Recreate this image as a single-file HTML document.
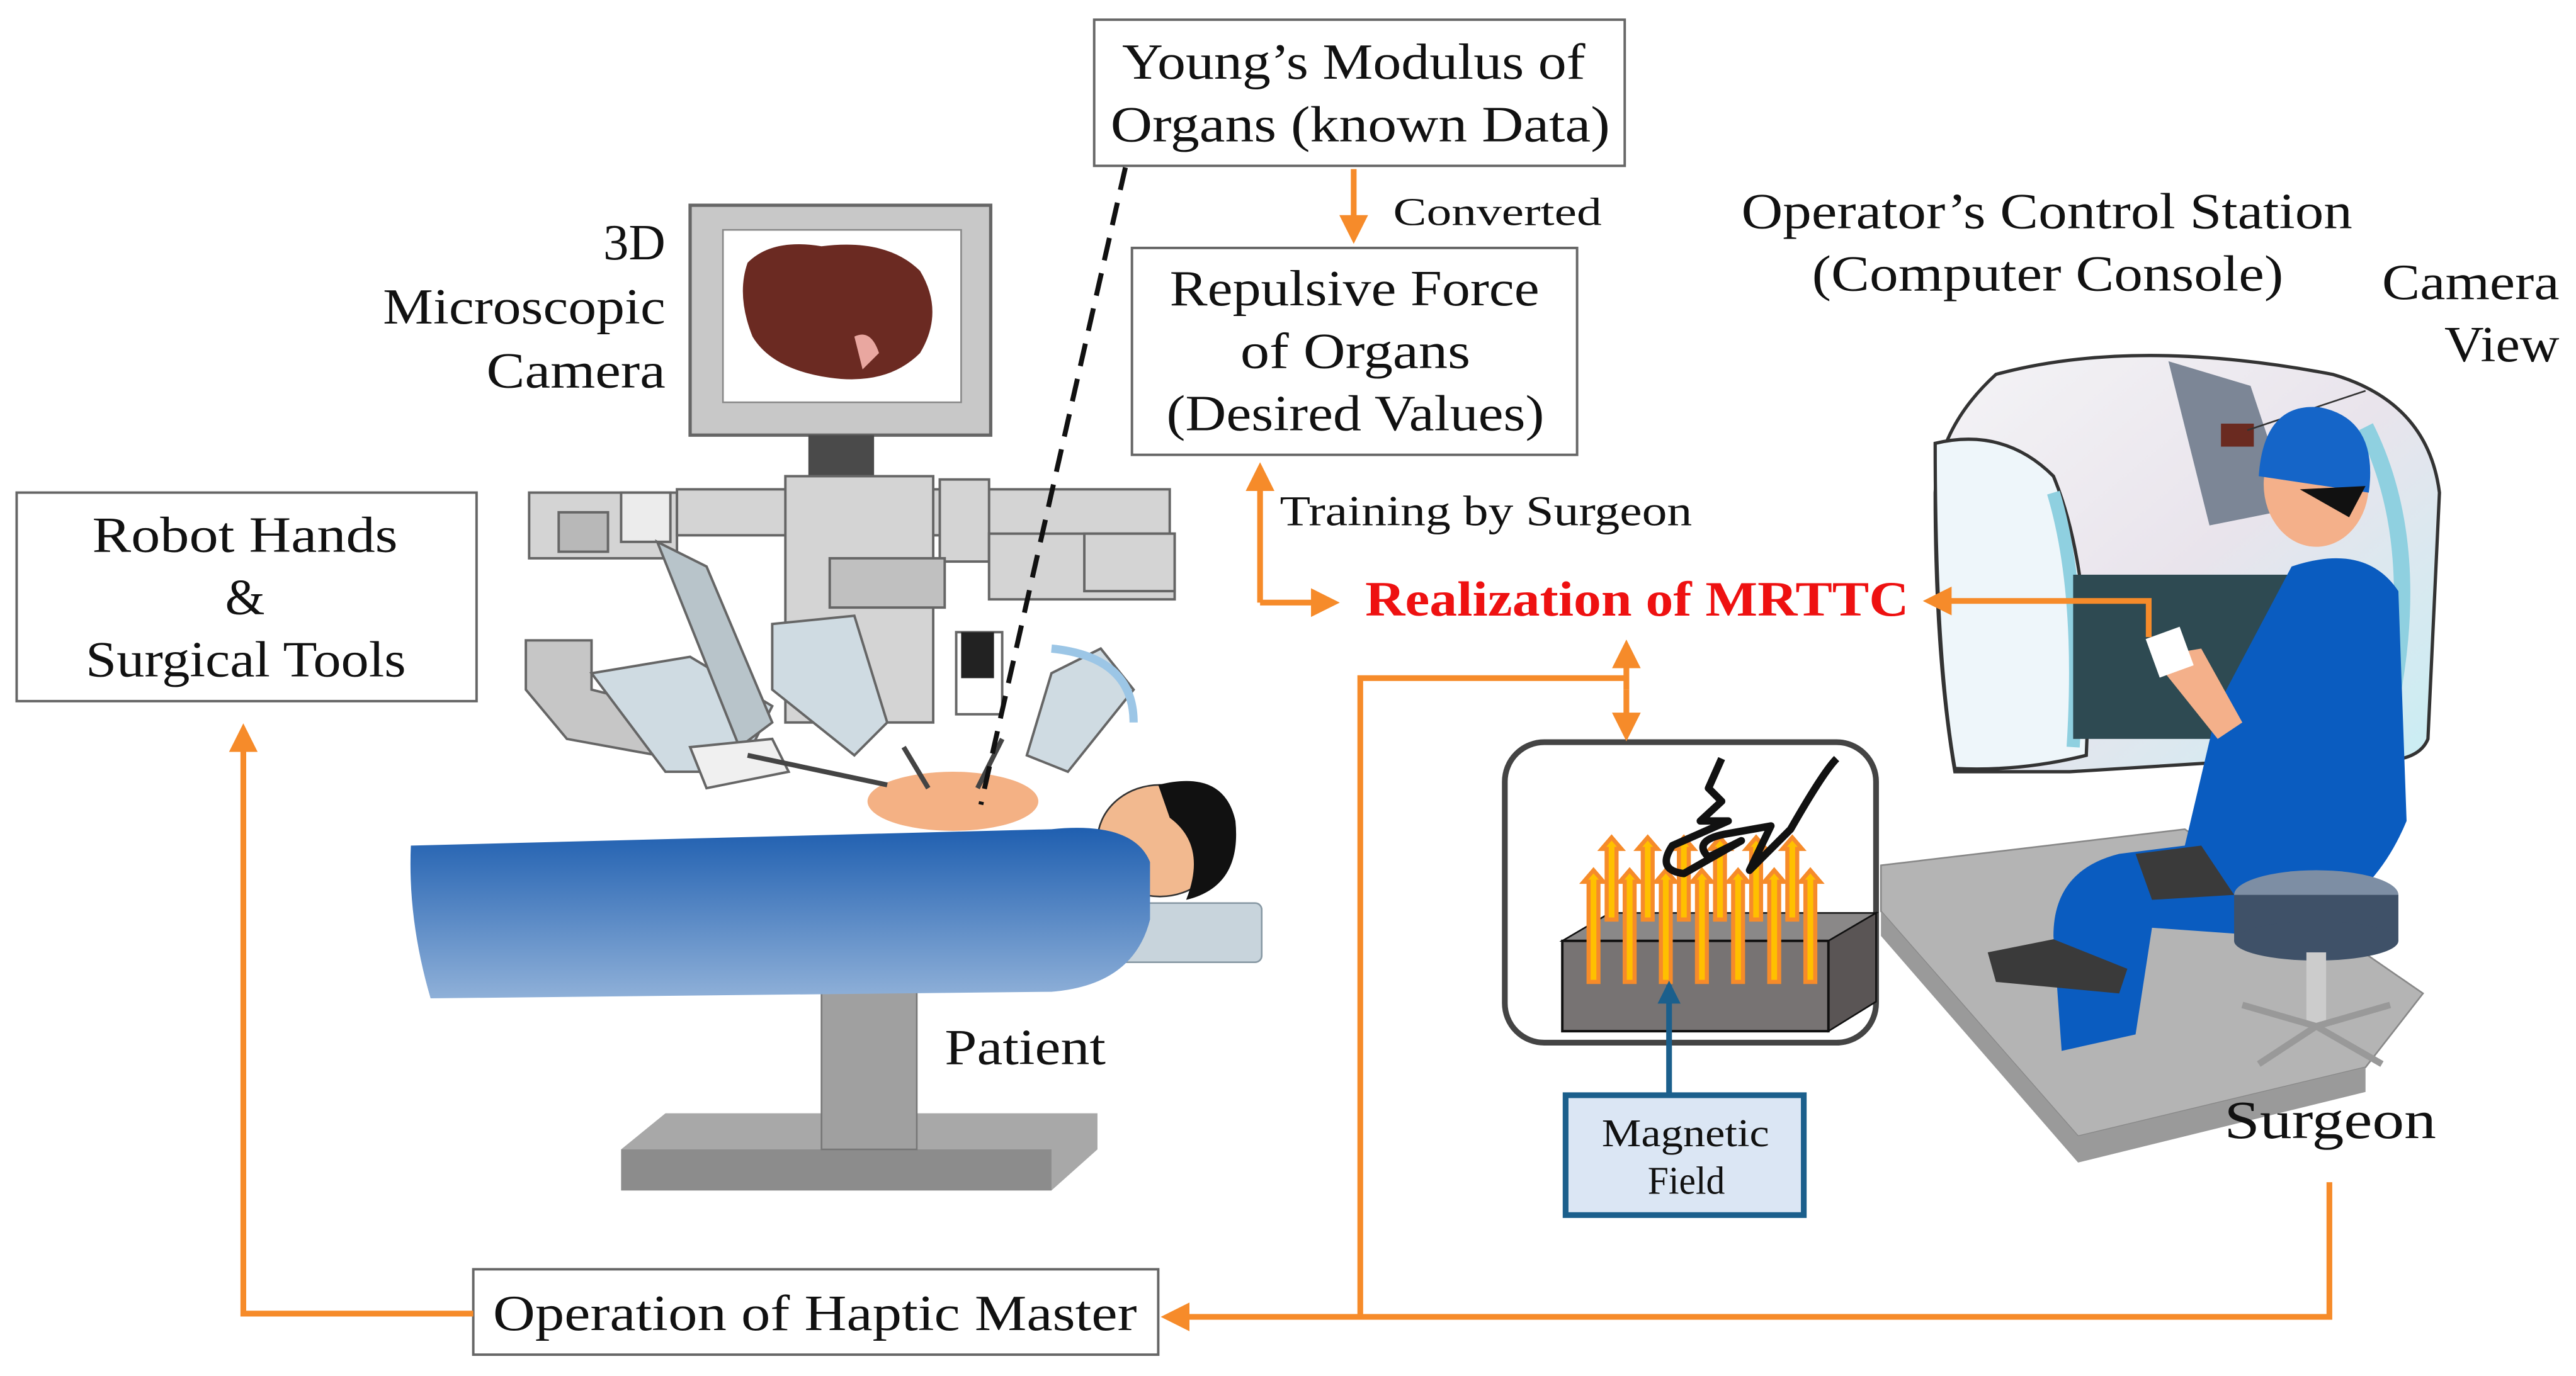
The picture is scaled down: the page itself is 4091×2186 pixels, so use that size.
<!DOCTYPE html>
<html><head><meta charset="utf-8"><style>
html,body{margin:0;padding:0;background:#fff;}
svg{display:block;}
text{font-family:"Liberation Serif",serif;fill:#111;}
</style></head><body>
<svg width="4091" height="2186" viewBox="0 0 1568 838" xmlns="http://www.w3.org/2000/svg">
<defs>
<linearGradient id="bed" x1="0" y1="0" x2="0" y2="1"><stop offset="0" stop-color="#1f5fb0"/><stop offset="1" stop-color="#8fb0d8"/></linearGradient>
<linearGradient id="shell" x1="0" y1="0" x2="1" y2="1"><stop offset="0" stop-color="#f4f4f6"/><stop offset="0.5" stop-color="#e9e4ec"/><stop offset="1" stop-color="#c8eef4"/></linearGradient>
<marker id="ao" viewBox="0 0 10 10" refX="8" refY="5" markerWidth="5" markerHeight="5" orient="auto"><path d="M0,0L10,5L0,10z" fill="#f68b2a"/></marker>
<marker id="ab" viewBox="0 0 10 10" refX="8" refY="5" markerWidth="4" markerHeight="4" orient="auto"><path d="M0,0L10,5L0,10z" fill="#1b5f8c"/></marker>
</defs>

<!-- table base -->
<polygon points="378,700 405,678 668,678 668,700 640,725 378,725" fill="#a8a8a8"/>
<polygon points="378,700 640,700 640,725 378,725" fill="#8c8c8c"/>
<rect x="500" y="595" width="58" height="105" fill="#a0a0a0" stroke="#777"/>
<rect x="640" y="550" width="128" height="36" rx="4" fill="#c8d4dc" stroke="#8899a4"/>
<ellipse cx="706" cy="512" rx="38" ry="34" fill="#f2b98f" stroke="#333"/>
<path d="M705,478 Q745,468 752,500 Q756,540 722,548 Q735,515 712,498 Z" fill="#111"/>
<path d="M250,515 L640,505 Q690,500 700,525 L700,560 Q690,600 640,604 L262,608 Q248,560 250,515 Z" fill="url(#bed)"/>
<ellipse cx="580" cy="488" rx="52" ry="18" fill="#f4b184"/>
<!-- monitor -->
<rect x="420" y="125" width="183" height="140" fill="#c8c8c8" stroke="#666" stroke-width="2"/>
<rect x="440" y="140" width="145" height="105" fill="#fff" stroke="#888"/>
<path d="M455,160 Q470,145 500,150 Q540,145 560,165 Q575,190 560,215 Q540,235 505,230 Q470,225 458,205 Q448,180 455,160 Z" fill="#6b2a22"/>
<path d="M520,205 Q530,200 535,215 L525,225 Z" fill="#e9a7a0"/>
<rect x="492" y="265" width="40" height="32" fill="#4a4a4a"/>
<g fill="#d4d4d4" stroke="#666" stroke-width="1.5">
<rect x="322" y="300" width="90" height="40"/>
<rect x="340" y="312" width="30" height="24" fill="#b8b8b8"/>
<rect x="378" y="300" width="30" height="30" fill="#ececec"/>
<rect x="412" y="298" width="300" height="28"/>
<rect x="478" y="290" width="90" height="150"/>
<rect x="572" y="292" width="30" height="50"/>
<rect x="602" y="325" width="113" height="40"/>
<rect x="660" y="325" width="55" height="35"/>
<rect x="505" y="340" width="70" height="30" fill="#c0c0c0"/>
<rect x="582" y="385" width="28" height="50" fill="#fff"/>
<rect x="585" y="385" width="20" height="28" fill="#222" stroke="none"/>
<path d="M320,390 L360,390 L360,420 L400,430 L400,460 L345,450 L320,420 Z" fill="#c6c6c6"/>
<path d="M360,410 L420,400 L470,430 L450,470 L405,470 Z" fill="#cfdbe2"/>
<path d="M400,330 L430,345 L470,440 L450,455 Z" fill="#b8c4ca"/>
<path d="M470,380 L520,375 L540,440 L520,460 L470,420 Z" fill="#cfdbe2"/>
<path d="M640,410 L670,395 L690,420 L650,470 L625,460 Z" fill="#cfdbe2"/>
<path d="M420,455 L470,450 L480,470 L430,480 Z" fill="#f0f0f0"/>
</g>
<path d="M640,395 Q690,400 690,440" fill="none" stroke="#9cc6e6" stroke-width="5"/>
<g stroke="#444" stroke-width="3"><line x1="550" y1="455" x2="565" y2="480"/><line x1="610" y1="450" x2="595" y2="480"/><line x1="455" y1="460" x2="540" y2="478"/></g>

<line x1="685" y1="102" x2="597" y2="490" stroke="#111" stroke-width="3" stroke-dasharray="14,8"/>

<!-- console -->
<polygon points="1145,527 1330,505 1475,605 1440,650 1265,692 1145,555" fill="#b4b4b4" stroke="#888"/>
<polygon points="1145,555 1265,692 1440,650 1440,665 1265,708 1145,570" fill="#9a9a9a"/>
<path d="M1215,228 Q1300,205 1420,228 Q1478,245 1485,300 L1478,450 Q1470,470 1420,460 L1260,470 L1190,470 Q1178,400 1178,300 Q1180,260 1215,228 Z" fill="url(#shell)" stroke="#333" stroke-width="2"/>
<path d="M1178,270 Q1220,260 1250,290 Q1275,350 1270,460 Q1230,470 1190,468 Q1178,400 1178,270 Z" fill="#eef6fa" stroke="#333" stroke-width="2"/>
<path d="M1250,300 Q1268,360 1262,455" fill="none" stroke="#8fd0e0" stroke-width="8"/>
<path d="M1440,260 Q1475,330 1455,430" fill="none" stroke="#8fd0e0" stroke-width="10"/>
<path d="M1320,220 L1370,235 L1395,310 L1345,320 Z" fill="#7c8696"/>
<rect x="1262" y="350" width="180" height="100" fill="#2e4a52"/>
<rect x="1352" y="258" width="20" height="14" fill="#6a2a20"/>
<line x1="1440" y1="238" x2="1368" y2="262" stroke="#333" stroke-width="1"/>
<path d="M1395,345 Q1440,330 1460,360 L1465,500 Q1440,560 1380,570 L1310,565 L1300,630 L1255,640 L1250,570 Q1250,530 1290,520 L1330,515 L1350,430 Z" fill="#0a5cc0"/>
<path d="M1310,400 L1340,395 L1365,440 L1350,450 Z" fill="#f4b08a"/>
<rect x="1310" y="385" width="22" height="25" fill="#fff" transform="rotate(-20 1320 398)"/>
<ellipse cx="1410" cy="295" rx="32" ry="38" fill="#f4b08a"/>
<path d="M1375,290 Q1378,245 1412,248 Q1448,255 1442,300 Z" fill="#1565c8"/>
<path d="M1400,298 L1440,296 L1430,315 Z" fill="#111"/>
<ellipse cx="1410" cy="545" rx="50" ry="15" fill="#7d8ea4"/>
<rect x="1360" y="545" width="100" height="28" fill="#3f5168"/>
<ellipse cx="1410" cy="573" rx="50" ry="12" fill="#3f5168"/>
<rect x="1404" y="580" width="12" height="45" fill="#ccc"/>
<g stroke="#999" stroke-width="4"><line x1="1410" y1="625" x2="1365" y2="612"/><line x1="1410" y1="625" x2="1455" y2="612"/><line x1="1410" y1="625" x2="1375" y2="648"/><line x1="1410" y1="625" x2="1450" y2="648"/></g>
<path d="M1210,580 L1250,572 L1295,590 L1290,605 L1215,598 Z" fill="#3a3a3a"/>
<path d="M1300,520 L1340,515 L1360,545 L1310,548 Z" fill="#3a3a3a"/>

<!-- magnet box -->
<rect x="916" y="452" width="226" height="183" rx="24" fill="#fff" stroke="#444" stroke-width="3.5"/>
<polygon points="951,573 980,556 1142,556 1113,573" fill="#8a8888" stroke="#111"/>
<polygon points="1113,573 1142,556 1142,610 1113,628" fill="#5a5555" stroke="#111"/>
<rect x="951" y="573" width="162" height="55" fill="#777373" stroke="#111" stroke-width="1.5"/>
<g fill="#ffc000" stroke="#f68b2a" stroke-width="2.5">
<path d="M964,537 L970,530 L976,537 L973,537 L973,598 L967,598 L967,537 Z"/>
<path d="M986,537 L992,530 L998,537 L995,537 L995,598 L989,598 L989,537 Z"/>
<path d="M1008,537 L1014,530 L1020,537 L1017,537 L1017,598 L1011,598 L1011,537 Z"/>
<path d="M1030,537 L1036,530 L1042,537 L1039,537 L1039,598 L1033,598 L1033,537 Z"/>
<path d="M1052,537 L1058,530 L1064,537 L1061,537 L1061,598 L1055,598 L1055,537 Z"/>
<path d="M1074,537 L1080,530 L1086,537 L1083,537 L1083,598 L1077,598 L1077,537 Z"/>
<path d="M1096,537 L1102,530 L1108,537 L1105,537 L1105,598 L1099,598 L1099,537 Z"/>
<path d="M975,517 L981,510 L987,517 L984,517 L984,560 L978,560 L978,517 Z"/>
<path d="M997,517 L1003,510 L1009,517 L1006,517 L1006,560 L1000,560 L1000,517 Z"/>
<path d="M1019,517 L1025,510 L1031,517 L1028,517 L1028,560 L1022,560 L1022,517 Z"/>
<path d="M1041,517 L1047,510 L1053,517 L1050,517 L1050,560 L1044,560 L1044,517 Z"/>
<path d="M1063,517 L1069,510 L1075,517 L1072,517 L1072,560 L1066,560 L1066,517 Z"/>
<path d="M1085,517 L1091,510 L1097,517 L1094,517 L1094,560 L1088,560 L1088,517 Z"/>
</g>
<path d="M1048,462 L1040,480 L1048,488 L1035,500 L1052,500 L1018,515 Q1008,530 1025,532 L1060,512 L1040,522 Q1030,512 1050,508 L1078,503 L1065,530 L1090,505 Q1110,470 1118,462" fill="none" stroke="#111" stroke-width="4.5" stroke-linejoin="round"/>
<line x1="1016" y1="666" x2="1016" y2="600" stroke="#1b5f8c" stroke-width="3.5" marker-end="url(#ab)"/>
<rect x="953" y="667" width="145" height="73" fill="#dbe6f4" stroke="#1b5f8c" stroke-width="3.5"/>
<text x="975" y="698" font-size="24" textLength="102" lengthAdjust="spacingAndGlyphs">Magnetic</text>
<text x="1003" y="727" font-size="24" textLength="47" lengthAdjust="spacingAndGlyphs">Field</text>

<!-- boxes -->
<rect x="666" y="12" width="323" height="89" fill="#fff" stroke="#666" stroke-width="1.5"/>
<text x="683" y="48" font-size="31" textLength="282" lengthAdjust="spacingAndGlyphs">Young’s Modulus of</text>
<text x="676" y="86" font-size="31" textLength="304" lengthAdjust="spacingAndGlyphs">Organs (known Data)</text>

<rect x="689" y="151" width="271" height="126" fill="#fff" stroke="#666" stroke-width="1.5"/>
<text x="712" y="186" font-size="31" textLength="225" lengthAdjust="spacingAndGlyphs">Repulsive Force</text>
<text x="755" y="224" font-size="31" textLength="140" lengthAdjust="spacingAndGlyphs">of Organs</text>
<text x="710" y="262" font-size="31" textLength="230" lengthAdjust="spacingAndGlyphs">(Desired Values)</text>

<rect x="10" y="300" width="280" height="127" fill="#fff" stroke="#666" stroke-width="1.5"/>
<text x="56" y="336" font-size="31" textLength="186" lengthAdjust="spacingAndGlyphs">Robot Hands</text>
<text x="149" y="374" font-size="31" text-anchor="middle">&amp;</text>
<text x="52" y="412" font-size="31" textLength="195" lengthAdjust="spacingAndGlyphs">Surgical Tools</text>

<rect x="288" y="773" width="417" height="52" fill="#fff" stroke="#666" stroke-width="1.5"/>
<text x="300" y="810" font-size="31" textLength="392" lengthAdjust="spacingAndGlyphs">Operation of Haptic Master</text>

<!-- labels -->
<text x="405" y="158" font-size="31" text-anchor="end">3D</text>
<text x="233" y="197" font-size="31" textLength="172" lengthAdjust="spacingAndGlyphs">Microscopic</text>
<text x="296" y="236" font-size="31" textLength="109" lengthAdjust="spacingAndGlyphs">Camera</text>
<text x="575" y="648" font-size="31" textLength="98" lengthAdjust="spacingAndGlyphs">Patient</text>
<text x="848" y="137" font-size="24" textLength="127" lengthAdjust="spacingAndGlyphs">Converted</text>
<text x="779" y="320" font-size="26" textLength="251" lengthAdjust="spacingAndGlyphs">Training by Surgeon</text>
<text x="1060" y="139" font-size="31" textLength="372" lengthAdjust="spacingAndGlyphs">Operator’s Control Station</text>
<text x="1103" y="177" font-size="31" textLength="287" lengthAdjust="spacingAndGlyphs">(Computer Console)</text>
<text x="1450" y="182" font-size="31" textLength="108" lengthAdjust="spacingAndGlyphs">Camera</text>
<text x="1488" y="220" font-size="31" textLength="70" lengthAdjust="spacingAndGlyphs">View</text>
<text x="1354" y="693" font-size="33" textLength="129" lengthAdjust="spacingAndGlyphs">Surgeon</text>
<text x="831" y="375" font-size="30" font-weight="bold" textLength="331" lengthAdjust="spacingAndGlyphs" style="fill:#ee1111">Realization of MRTTC</text>

<!-- connectors -->
<g fill="none" stroke="#f68b2a" stroke-width="3.5">
<line x1="824" y1="103" x2="824" y2="145" marker-end="url(#ao)"/>
<path d="M767,367 L767,285" marker-end="url(#ao)"/>
<path d="M767,367 L812,367" marker-end="url(#ao)"/>
<path d="M1308,388 L1308,366 L1174,366" marker-end="url(#ao)"/>
<line x1="990" y1="420" x2="990" y2="393" marker-end="url(#ao)"/>
<line x1="990" y1="420" x2="990" y2="448" marker-end="url(#ao)"/>
<path d="M990,413 L828,413 L828,802"/>
<path d="M1418,720 L1418,802 L710,802" marker-end="url(#ao)"/>
<path d="M288,800 L148,800 L148,444" marker-end="url(#ao)"/>
</g>
</svg>
</body></html>
